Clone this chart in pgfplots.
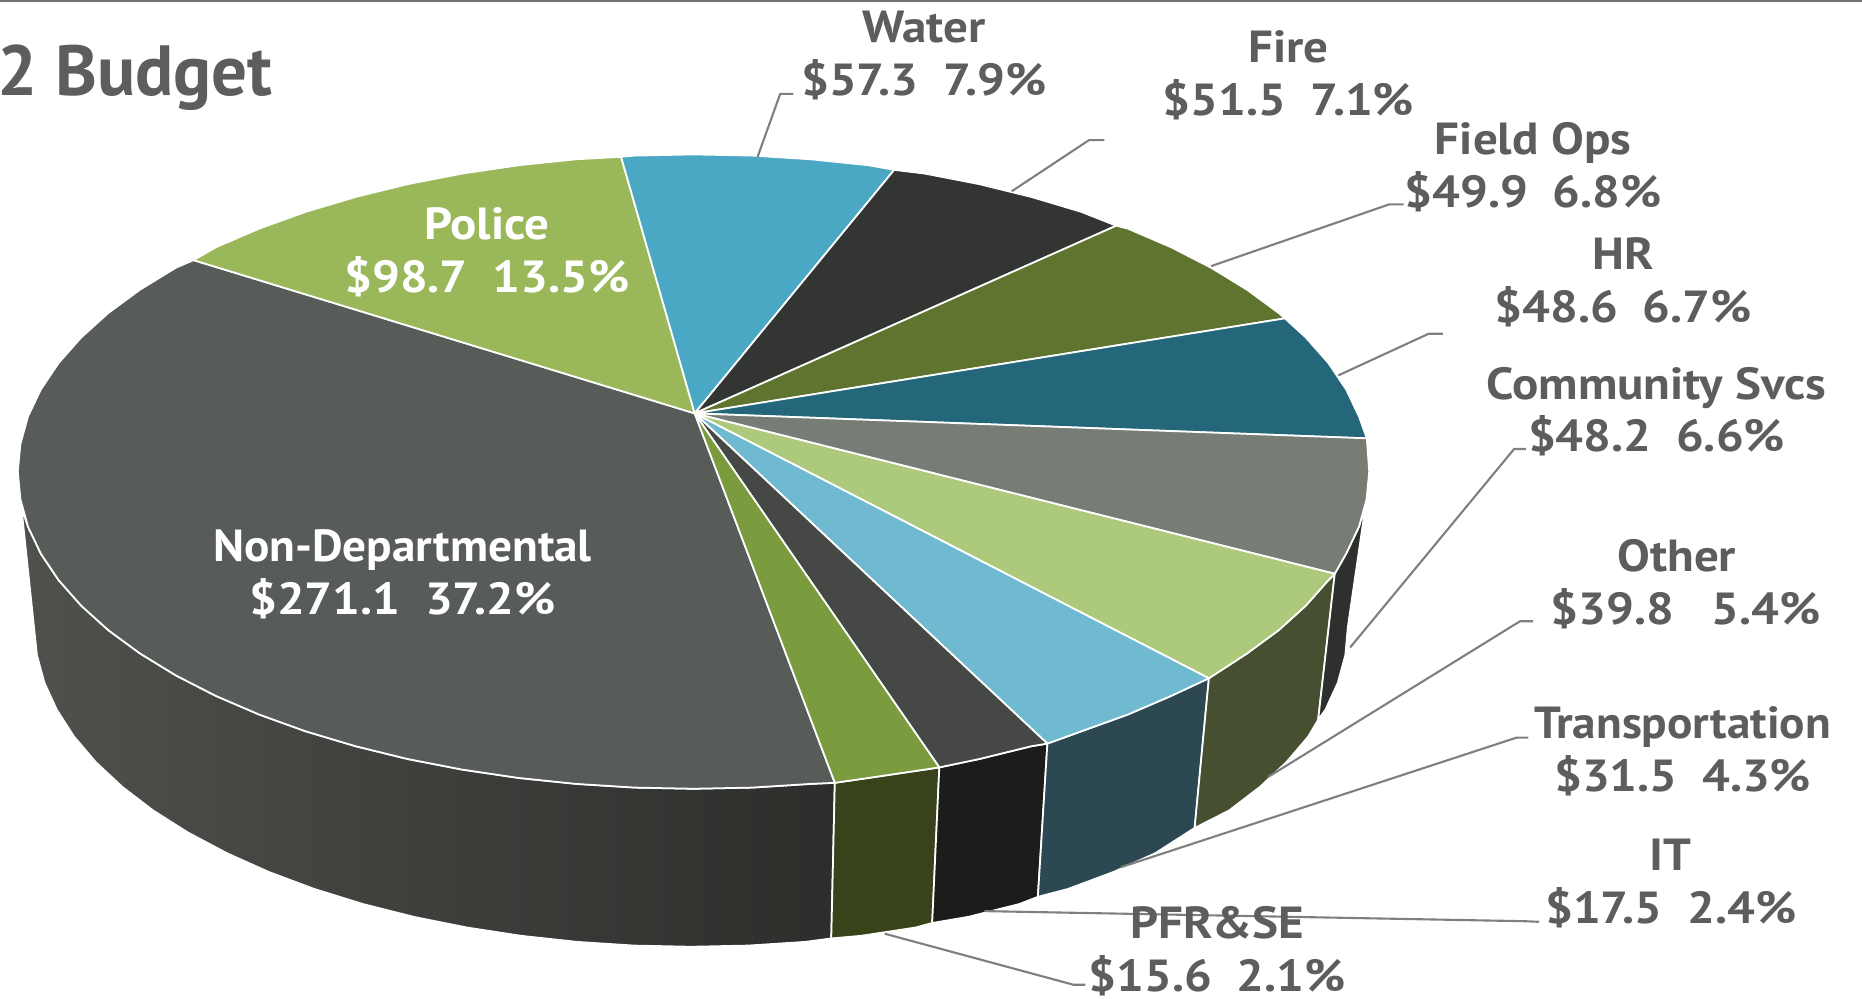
\documentclass[border=0pt]{standalone}
\usepackage{fontspec}
\setmainfont{PT Sans}
\newfontfamily\labfont[FakeStretch=1.09]{PT Sans}
\newfontfamily\labfontn[FakeStretch=1.05]{PT Sans}
\usepackage{pgfplots}
\pgfplotsset{compat=1.18}
\definecolor{cNon}{HTML}{585C58}
\definecolor{cPol}{HTML}{9AB859}
\definecolor{cWat}{HTML}{4BA8C4}
\definecolor{cFir}{HTML}{333532}
\definecolor{cFld}{HTML}{5F742F}
\definecolor{cHR}{HTML}{25677A}
\definecolor{cCom}{HTML}{777D75}
\definecolor{cOth}{HTML}{ADC97B}
\definecolor{cTra}{HTML}{6FBAD1}
\definecolor{cIT}{HTML}{464845}
\definecolor{cPFR}{HTML}{7B9B3F}
\definecolor{wNonL}{HTML}{4E514C}
\definecolor{wNonR}{HTML}{2C2E2B}
\definecolor{wPFR}{HTML}{38431A}
\definecolor{wIT}{HTML}{1C1C1B}
\definecolor{wTra}{HTML}{2C4953}
\definecolor{wOth}{HTML}{464F30}
\definecolor{wCom}{HTML}{2E302D}
\definecolor{txt}{HTML}{5C5E5B}
\definecolor{lead}{HTML}{7F7F7F}
\definecolor{rule}{HTML}{707478}
\newcommand{\lab}[5][txt]{%
  \node[anchor=base,text=#1,font=\fontsize{12.8}{15}\labfont\bfseries,inner sep=0pt] at (axis cs:#2,#3) {#4};%
  \node[anchor=base,text=#1,font=\fontsize{12.8}{15}\labfont\bfseries,inner sep=0pt] at (axis cs:#2,#3+44.5) {#5};%
}
\pgfplotsset{
  wedge/.style={no markers,line join=round,line width=0.5pt,draw=white},
  leader/.style={no markers,line join=round,line width=0.6pt,draw=lead}
}
\begin{document}
\begin{tikzpicture}
\useasboundingbox (0,0) rectangle (18.62cm,9.99cm);
\clip (0,0) rectangle (18.62cm,9.99cm);
\begin{axis}[
  at={(0,0)},anchor=south west,scale only axis,width=18.62cm,height=9.99cm,
  xmin=0,xmax=1568,ymin=0,ymax=841,y dir=reverse,hide axis
]
% side walls
\addplot[wedge,left color=wNonL,right color=wNonR] coordinates {(703,659)(682.8,659.9)(633.6,663)(584,664)(534.4,663)(485.2,659.9)(436.7,654.9)(389.4,647.9)(343.5,639)(299.5,628.2)(257.6,615.7)(218.2,601.5)(181.7,585.8)(148.1,568.6)(117.9,550.1)(91.2,530.5)(68.3,509.8)(49.3,488.3)(34.4,466.1)(23.6,443.4)(18,427)(31.1,551.5)(37.4,574.7)(47.9,597.6)(62.3,620)(80.8,641.7)(103.1,662.5)(129,682.3)(158.4,700.9)(191,718.2)(226.5,734.1)(264.8,748.4)(305.5,761)(348.3,771.8)(393.1,780.8)(438.9,787.8)(486,792.9)(533.8,796)(582,797)(630.2,796)(678,792.9)(700,790)} --cycle;
\addplot[wedge,fill=wPFR] coordinates {(703,659)(731.3,654.9)(778.6,647.9)(791,646)(785,777)(771.1,780.8)(725.1,787.8)(700,790)} --cycle;
\addplot[wedge,fill=wIT] coordinates {(791,646)(824.5,639)(868.5,628.2)(882,626)(874,755)(858.5,761)(815.7,771.8)(785,777)} --cycle;
\addplot[wedge,fill=wTra] coordinates {(882,626)(910.4,615.7)(949.8,601.5)(986.3,585.8)(1018,571)(1006,697)(973,718.2)(937.5,734.1)(899.2,748.4)(874,755)} --cycle;
\addplot[wedge,fill=wOth] coordinates {(1018,571)(1050.1,550.1)(1076.8,530.5)(1099.7,509.8)(1118.7,488.3)(1124,483)(1110,606)(1101.7,620)(1083.2,641.7)(1060.9,662.5)(1035,682.3)(1006,697)} --cycle;
\addplot[wedge,fill=wCom] coordinates {(1124,483)(1133.6,466.1)(1144.4,443.4)(1150,425)(1135,528)(1132.9,551.5)(1126.6,574.7)(1116.1,597.6)(1110,606)} --cycle;
% top face
\addplot[wedge,fill=cNon] coordinates {(585,348)(703,659)(682.8,659.9)(633.6,663)(584,664)(534.4,663)(485.2,659.9)(436.7,654.9)(389.4,647.9)(343.5,639)(299.5,628.2)(257.6,615.7)(218.2,601.5)(181.7,585.8)(148.1,568.6)(117.9,550.1)(91.2,530.5)(68.3,509.8)(49.3,488.3)(34.4,466.1)(23.6,443.4)(17.2,420.3)(15,397)(17.2,373.7)(23.6,350.6)(34.4,327.9)(49.3,305.7)(68.3,284.2)(91.2,263.5)(117.9,243.9)(148.1,225.4)(163,219)} --cycle;
\addplot[wedge,fill=cPol] coordinates {(585,348)(163,219)(181.7,208.2)(218.2,192.5)(257.6,178.3)(299.5,165.8)(343.5,155)(389.4,146.1)(436.7,139.1)(485.2,134.1)(523,132)} --cycle;
\addplot[wedge,fill=cWat] coordinates {(585,348)(523,132)(534.4,131)(584,130)(633.6,131)(682.8,134.1)(731.3,139.1)(753,143)} --cycle;
\addplot[wedge,fill=cFir] coordinates {(585,348)(753,143)(778.6,146.1)(824.5,155)(868.5,165.8)(910.4,178.3)(940,190)} --cycle;
\addplot[wedge,fill=cFld] coordinates {(585,348)(940,190)(949.8,192.5)(986.3,208.2)(1019.9,225.4)(1050.1,243.9)(1076.8,263.5)(1082,268)} --cycle;
\addplot[wedge,fill=cHR] coordinates {(585,348)(1082,268)(1099.7,284.2)(1118.7,305.7)(1133.6,327.9)(1144.4,350.6)(1151,369)} --cycle;
\addplot[wedge,fill=cCom] coordinates {(585,348)(1151,369)(1153,397)(1150.8,420.3)(1144.4,443.4)(1133.6,466.1)(1124,483)} --cycle;
\addplot[wedge,fill=cOth] coordinates {(585,348)(1124,483)(1118.7,488.3)(1099.7,509.8)(1076.8,530.5)(1050.1,550.1)(1018,571)} --cycle;
\addplot[wedge,fill=cTra] coordinates {(585,348)(1018,571)(986.3,585.8)(949.8,601.5)(910.4,615.7)(882,626)} --cycle;
\addplot[wedge,fill=cIT] coordinates {(585,348)(882,626)(868.5,628.2)(824.5,639)(791,646)} --cycle;
\addplot[wedge,fill=cPFR] coordinates {(585,348)(791,646)(778.6,647.9)(731.3,654.9)(703,659)} --cycle;
% leader lines
\addplot[leader] coordinates {(638,132)(657,79)(668,79)};
\addplot[leader] coordinates {(852,161)(917,118)(930,118)};
\addplot[leader] coordinates {(1020,224)(1170,172)(1182,172)};
\addplot[leader] coordinates {(1127,316)(1203,281)(1215,281)};
\addplot[leader] coordinates {(1137,545)(1275,378)(1285,378)};
\addplot[leader] coordinates {(1068,654)(1280,523)(1291,523)};
\addplot[leader] coordinates {(944,730)(1277,621)(1287,621)};
\addplot[leader] coordinates {(829,767)(1284,775.5)(1296,776)};
\addplot[leader] coordinates {(745,786)(904,829)(914,829)};
% top rule
\addplot[no markers,draw=rule,line width=1.3pt] coordinates {(0,0)(1568,0)};
% labels
\lab{778}{36}{Water}{\$57.3\ \ 7.9\%}
\lab{1085}{53}{Fire}{\$51.5\ \ 7.1\%}
\lab{1291}{130}{Field Ops}{\$49.9\ \ 6.8\%}
\lab{1367}{227}{HR}{\$48.6\ \ 6.7\%}
\lab{1395}{336}{Community Svcs}{\$48.2\ \ 6.6\%}
\lab{1412}{481}{Other}{\hspace*{5pt}\$39.8\ \ \ 5.4\%}
\lab{1417}{622}{{\labfontn\bfseries Transportation}}{\$31.5\ \ 4.3\%}
\lab{1407}{733}{IT}{\$17.5\ \ 2.4\%}
\lab{1025}{790}{PFR\&SE}{\$15.6\ \ 2.1\%}
\lab[white]{410}{202}{Police}{\$98.7\ \ 13.5\%}
\lab[white]{339}{473}{{\labfontn\bfseries Non-Departmental}}{\$271.1\ \ 37.2\%}
\node[anchor=base west,text=txt,font=\fontsize{20.2}{23}\selectfont\bfseries,inner sep=0pt] at (axis cs:-3,80) {2 Budget};
\end{axis}
\end{tikzpicture}
\end{document}
